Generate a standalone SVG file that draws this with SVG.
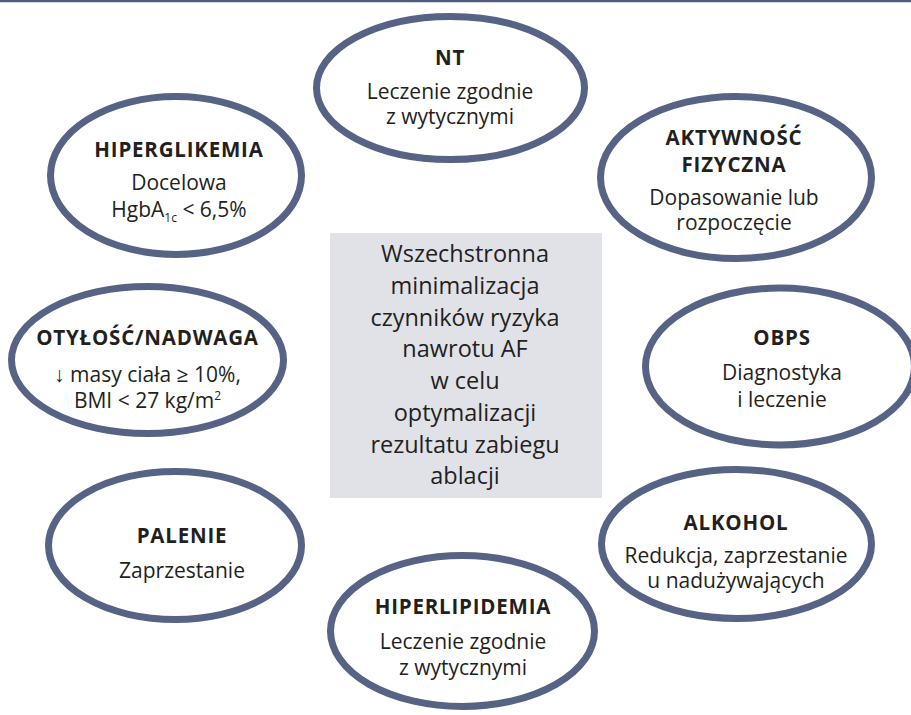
<svg xmlns="http://www.w3.org/2000/svg" width="911" height="715" viewBox="0 0 911 715">
<style>
.e{fill:#fff;stroke:#566384;stroke-width:7}
.t{font-family:"Open Sans","Liberation Sans",sans-serif;font-size:21px;fill:#231f20;text-anchor:middle}
.b{font-weight:bold;font-size:20.5px;letter-spacing:0.8px}
.c{font-size:23.5px}
</style>
<rect x="0" y="0" width="911" height="715" fill="#fff"/>
<line x1="0" y1="1" x2="911" y2="1" stroke="#4d5b7e" stroke-width="2.5"/>
<g id="center">
<rect x="330" y="233" width="272" height="265" fill="#e1e2e8"/>
<text class="t c" x="465"><tspan x="465" y="262">Wszechstronna</tspan><tspan x="465" y="294">minimalizacja</tspan><tspan x="465" y="326">czynników ryzyka</tspan><tspan x="465" y="357">nawrotu AF</tspan><tspan x="465" y="389">w celu</tspan><tspan x="465" y="421">optymalizacji</tspan><tspan x="465" y="453">rezultatu zabiegu</tspan><tspan x="465" y="484">ablacji</tspan></text>
</g>
<g id="nt">
<ellipse class="e" cx="450.5" cy="88" rx="134" ry="71.5"/>
<text class="t b" x="450" y="65">NT</text>
<text class="t" x="450" y="99">Leczenie zgodnie</text>
<text class="t" x="450" y="124">z wytycznymi</text>
</g>
<g id="hiperglikemia">
<ellipse class="e" cx="176" cy="175.5" rx="125.5" ry="79"/>
<text class="t b" x="179" y="157">HIPERGLIKEMIA</text>
<text class="t" x="179" y="190">Docelowa</text>
<text class="t" x="179" y="217">HgbA<tspan font-size="12" dy="5">1c</tspan><tspan dy="-5"> &lt; 6,5%</tspan></text>
</g>
<g id="aktywnosc">
<ellipse class="e" cx="736" cy="177.5" rx="135.5" ry="81"/>
<text class="t b" x="734" y="145">AKTYWNOŚĆ</text>
<text class="t b" x="734" y="172">FIZYCZNA</text>
<text class="t" x="734" y="205">Dopasowanie lub</text>
<text class="t" x="734" y="230">rozpoczęcie</text>
</g>
<g id="otylosc">
<ellipse class="e" cx="147.5" cy="360" rx="136" ry="73.5"/>
<text class="t b" x="147.5" y="345">OTYŁOŚĆ/NADWAGA</text>
<text class="t" x="147.5" y="382">↓ masy ciała ≥ 10%,</text>
<text class="t" x="147.5" y="408">BMI &lt; 27 kg/m<tspan font-size="12" dy="-8">2</tspan></text>
</g>
<g id="obps">
<ellipse class="e" cx="780" cy="366.5" rx="134.5" ry="78.5"/>
<text class="t b" x="782" y="345">OBPS</text>
<text class="t" x="782" y="380">Diagnostyka</text>
<text class="t" x="782" y="407">i leczenie</text>
</g>
<g id="palenie">
<ellipse class="e" cx="175" cy="545.5" rx="126.5" ry="74"/>
<text class="t b" x="182" y="543">PALENIE</text>
<text class="t" x="182" y="578">Zaprzestanie</text>
</g>
<g id="alkohol">
<ellipse class="e" cx="736.5" cy="544" rx="135" ry="74.5"/>
<text class="t b" x="736" y="530">ALKOHOL</text>
<text class="t" x="736" y="563">Redukcja, zaprzestanie</text>
<text class="t" x="736" y="588">u nadużywających</text>
</g>
<g id="hiperlipidemia">
<ellipse class="e" cx="462.5" cy="631" rx="132" ry="75.5"/>
<text class="t b" x="463" y="614">HIPERLIPIDEMIA</text>
<text class="t" x="463" y="649">Leczenie zgodnie</text>
<text class="t" x="463" y="675">z wytycznymi</text>
</g>
<g id="connectors"></g>
</svg>
